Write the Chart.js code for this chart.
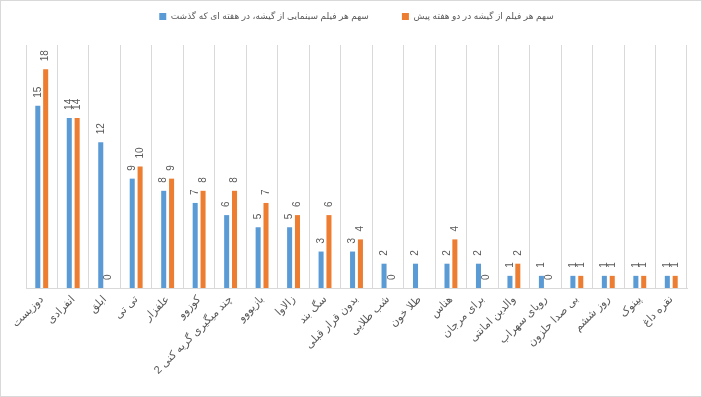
<!DOCTYPE html>
<html>
<head>
<meta charset="utf-8">
<script src="https://cdn.jsdelivr.net/npm/chart.js@4"></script>
<style>
html,body{margin:0;padding:0;background:#fff;}
#wrap{width:702px;height:397px;position:relative;}
canvas{direction:rtl;}
</style>
</head>
<body>
<div id="wrap"><canvas id="c" width="702" height="397"></canvas></div>
<script>
const categories = ["دوزیست","انفرادی","ابلق","تی تی","علفزار","کوزوو","چند میگیری گریه کنی 2","بازیووو","زالاوا","سگ بند","بدون قرار قبلی","شب طلایی","طلا خون","هناس","برای مرجان","والدین امانتی","رویای سهراب","بی صدا حلزون","روز ششم","پینوک","نقره داغ"];
const seriesNames = ["سهم هر فیلم سینمایی از گیشه، در هفته ای که گذشت","سهم هر فیلم از گیشه در دو هفته پیش"];
const lastWeek = [15,14,12,9,8,7,6,5,5,3,3,2,2,2,2,1,1,1,1,1,1];
const twoWeeksAgo = [18,14,0,10,9,8,8,7,6,6,4,0,null,4,0,2,0,1,1,1,1];

const FONT = "'Liberation Sans', 'DejaVu Sans', sans-serif";
const GRAY = '#595959';

const valueLabels = {
  id: 'valueLabels',
  afterDatasetsDraw(chart) {
    const ctx = chart.ctx;
    ctx.save();
    ctx.font = '10px ' + FONT;
    ctx.fillStyle = GRAY;
    ctx.textAlign = 'left';
    ctx.textBaseline = 'middle';
    chart.data.datasets.forEach((ds, di) => {
      const meta = chart.getDatasetMeta(di);
      meta.data.forEach((bar, i) => {
        const v = ds.data[i];
        if (v === null || v === undefined) return;
        ctx.save();
        ctx.translate(bar.x, bar.y - 8);
        ctx.rotate(-Math.PI / 2);
        ctx.direction = 'ltr';
        ctx.fillText(String(v), 0, 0);
        ctx.restore();
      });
    });
    ctx.restore();
  }
};

const legendFit = {
  id: 'legendFit',
  beforeLayout(chart) {
    const lg = chart.legend;
    if (lg && !lg._patched) {
      const orig = lg.fit;
      lg.fit = function () { orig.call(this); this.height = 66; };
      lg._patched = true;
    }
  }
};

const frame = {
  id: 'frame',
  afterDraw(chart) {
    const ctx = chart.ctx;
    ctx.save();
    ctx.strokeStyle = '#d9d9d9';
    ctx.lineWidth = 1;
    ctx.strokeRect(0.5, 0.5, chart.width - 1, chart.height - 1);
    ctx.restore();
  }
};

new Chart(document.getElementById('c'), {
  type: 'bar',
  data: {
    labels: categories,
    datasets: [
      { label: seriesNames[0], data: lastWeek, backgroundColor: '#5B9BD5', categoryPercentage: 0.5, barPercentage: 0.64 },
      { label: seriesNames[1], data: twoWeeksAgo, backgroundColor: '#ED7D31', categoryPercentage: 0.5, barPercentage: 0.64 }
    ]
  },
  options: {
    responsive: false,
    animation: false,
    devicePixelRatio: 1,
    layout: { padding: { left: 26, right: 15, top: -21, bottom: 0 } },
    plugins: {
      legend: {
        position: 'top',
        labels: { boxWidth: 7, boxHeight: 7, color: GRAY, font: { family: FONT, size: 9 }, padding: 33 }
      },
      tooltip: { enabled: false }
    },
    scales: {
      x: {
        grid: { color: '#d9d9d9', offset: true, drawTicks: false },
        border: { color: '#d9d9d9' },
        ticks: { color: GRAY, font: { family: FONT, size: 11 }, minRotation: 45, maxRotation: 45, padding: 5, autoSkip: false },
        afterFit(scale) { scale.height = 109; scale.paddingLeft = 0; scale.paddingRight = 0; }
      },
      y: {
        display: false,
        min: 0,
        max: 20
      }
    }
  },
  plugins: [legendFit, valueLabels, frame]
});
</script>
</body>
</html>
